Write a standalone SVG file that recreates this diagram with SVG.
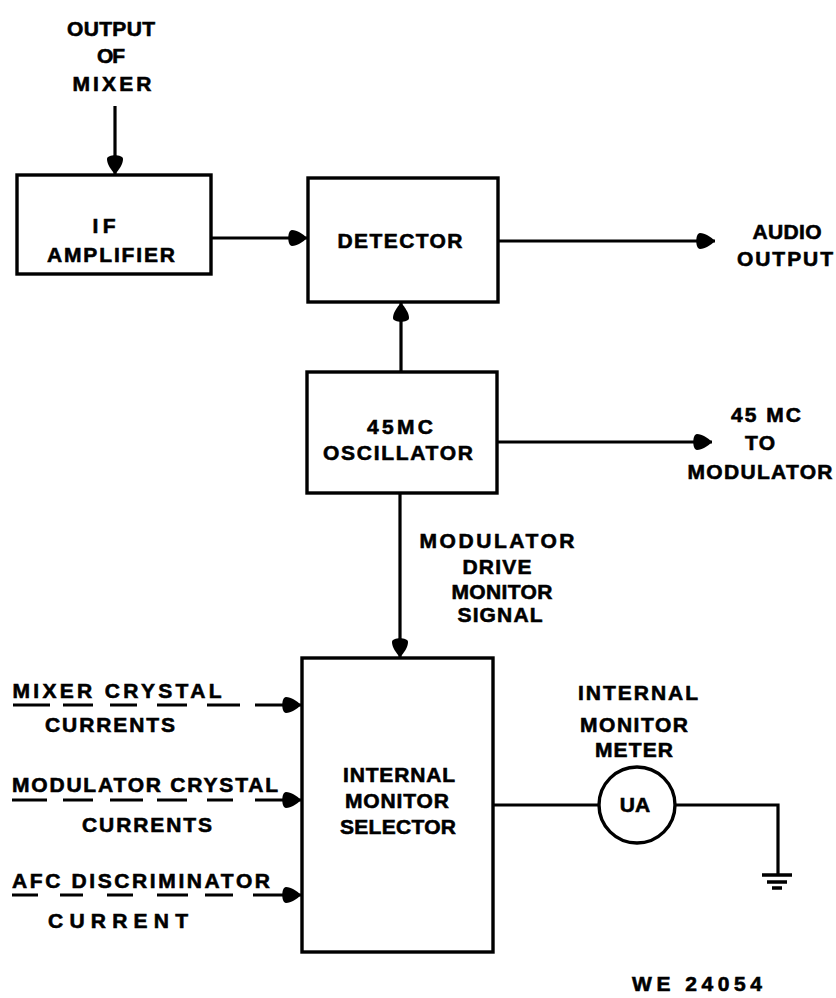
<svg xmlns="http://www.w3.org/2000/svg" width="836" height="998" viewBox="0 0 836 998">
<style>
text{font-family:"Liberation Sans",Arial,sans-serif;font-weight:bold;font-size:21px;fill:#000;stroke:#000;stroke-width:0.6;text-anchor:middle}
.box{fill:none;stroke:#000;stroke-width:3.4}
.ln{fill:none;stroke:#000;stroke-width:3.2}
.arr{marker-end:url(#ah)}
</style>
<defs>
<marker id="ah" markerUnits="userSpaceOnUse" markerWidth="26" markerHeight="26" viewBox="-22 -11 26 22" refX="0" refY="0" orient="auto">
<path d="M0,0 C-4,-4 -10,-8 -15,-8 C-20,-8 -20,8 -15,8 C-10,8 -4,4 0,0 Z" fill="#000"/>
</marker>
</defs>
<rect width="836" height="998" fill="#fff"/>

<g id="label-output-of-mixer">
<text x="111" y="36" textLength="88" lengthAdjust="spacing">OUTPUT</text>
<text x="111" y="63" textLength="28" lengthAdjust="spacing">OF</text>
<text x="112" y="91" textLength="79" lengthAdjust="spacing">MIXER</text>
</g>

<g id="if-amplifier">
<rect class="box" x="17" y="175" width="194" height="99"/>
<text x="104" y="233" textLength="23" lengthAdjust="spacing">IF</text>
<text x="111" y="262" textLength="128" lengthAdjust="spacing">AMPLIFIER</text>
</g>

<g id="detector">
<rect class="box" x="308" y="178" width="190" height="124"/>
<text x="400" y="248" textLength="125" lengthAdjust="spacing">DETECTOR</text>
</g>

<g id="oscillator">
<rect class="box" x="307" y="372" width="190" height="121"/>
<text x="400" y="434" textLength="66" lengthAdjust="spacing">45MC</text>
<text x="398" y="460" textLength="150" lengthAdjust="spacing">OSCILLATOR</text>
</g>

<g id="selector">
<rect class="box" x="302" y="658" width="191" height="294"/>
<text x="399" y="782" textLength="112" lengthAdjust="spacing">INTERNAL</text>
<text x="397" y="808" textLength="104" lengthAdjust="spacing">MONITOR</text>
<text x="398" y="834" textLength="116" lengthAdjust="spacing">SELECTOR</text>
</g>

<g id="meter">
<circle cx="637" cy="805" r="38" fill="none" stroke="#000" stroke-width="3.4"/>
<text x="635" y="812" font-size="18">UA</text>
<text x="638" y="700" textLength="120" lengthAdjust="spacing">INTERNAL</text>
<text x="634" y="732" textLength="108" lengthAdjust="spacing">MONITOR</text>
<text x="634" y="757" textLength="78" lengthAdjust="spacing">METER</text>
</g>

<g id="ground">
<path class="ln" d="M676,805H778V874"/>
<path d="M762,875H792M767,882H787M772,888H782" stroke="#000" stroke-width="3.5" fill="none"/>
</g>

<g id="label-audio-output">
<text x="787" y="239" textLength="69" lengthAdjust="spacing">AUDIO</text>
<text x="785" y="266" textLength="96" lengthAdjust="spacing">OUTPUT</text>
</g>

<g id="label-45mc-to-modulator">
<text x="766" y="422" textLength="70" lengthAdjust="spacing">45 MC</text>
<text x="760" y="450" textLength="30" lengthAdjust="spacing">TO</text>
<text x="760" y="479" textLength="145" lengthAdjust="spacing">MODULATOR</text>
</g>

<g id="label-modulator-drive">
<text x="497" y="548" textLength="155" lengthAdjust="spacing">MODULATOR</text>
<text x="497" y="574" textLength="69" lengthAdjust="spacing">DRIVE</text>
<text x="502" y="599" textLength="101" lengthAdjust="spacing">MONITOR</text>
<text x="500" y="622" textLength="85" lengthAdjust="spacing">SIGNAL</text>
</g>

<g id="label-mixer-crystal">
<text x="117" y="698" textLength="209" lengthAdjust="spacing">MIXER CRYSTAL</text>
<text x="110" y="732" textLength="130" lengthAdjust="spacing">CURRENTS</text>
</g>
<g id="label-modulator-crystal">
<text x="145" y="792" textLength="266" lengthAdjust="spacing">MODULATOR CRYSTAL</text>
<text x="147" y="832" textLength="130" lengthAdjust="spacing">CURRENTS</text>
</g>
<g id="label-afc">
<text x="141" y="888" textLength="258" lengthAdjust="spacing">AFC DISCRIMINATOR</text>
<text x="118" y="928" textLength="140" lengthAdjust="spacing">CURRENT</text>
</g>

<g id="label-we">
<text x="697" y="991" textLength="130" lengthAdjust="spacing">WE 24054</text>
</g>

<g id="connectors">
<path class="ln arr" d="M115,106V174"/>
<path class="ln arr" d="M211,238H307"/>
<path class="ln arr" d="M498,241H715"/>
<path class="ln arr" d="M401,372V303"/>
<path class="ln arr" d="M497,442H712"/>
<path class="ln arr" d="M400,493V657"/>
<path class="ln" d="M493,805H599"/>
<path class="ln arr" d="M13,705H50M63,705H93M110,705H137M157,705H187M207,705H240M255,705H301"/>
<path class="ln arr" d="M12,800H47M63,800H93M110,800H143M157,800H187M207,800H233M255,800H301"/>
<path class="ln arr" d="M12,895H38M60,895H83M107,895H133M157,895H188M205,895H233M253,895H301"/>
</g>
</svg>
